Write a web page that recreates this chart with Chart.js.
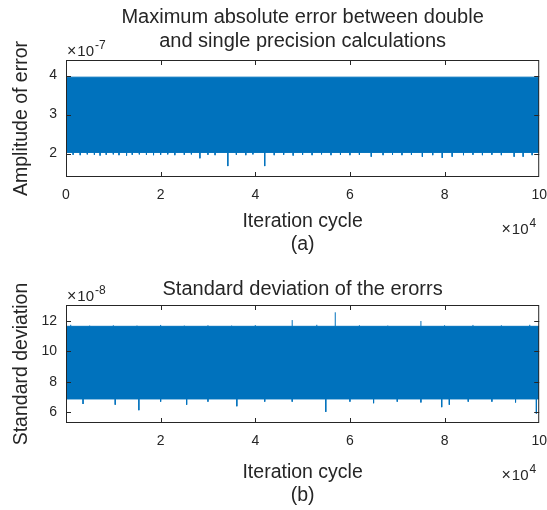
<!DOCTYPE html>
<html>
<head>
<meta charset="utf-8">
<title>Error statistics</title>
<script src="https://cdn.jsdelivr.net/npm/chart.js@4.4.1/dist/chart.umd.min.js"></script>
<style>
    html, body { margin: 0; padding: 0; background: #fff; }
    #wrap { position: relative; width: 547px; height: 510px; }
    #wrap canvas { position: absolute; left: 0; }
</style>
</head>
<body>
<div id="wrap">
    <canvas id="chartA" width="547" height="255" style="top:0"></canvas>
    <canvas id="chartB" width="547" height="255" style="top:255px"></canvas>
</div>
<script>
// -------------------------------------------------------------------------
// Data (x in units of 1e4 iterations)
// -------------------------------------------------------------------------

// (a) maximum absolute error, units of 1e-7
const xTicksA = [0, 2, 4, 6, 8, 10];
const yTicksA = [2, 3, 4];
const envelopeXA = [0, 10];
const upperA = [3.96, 3.96];
const lowerA = [2.03, 2.03];
// downward excursions below the band
const spikeXA = [0.15, 0.3, 0.45, 0.6, 0.72, 0.85, 1.0, 1.12, 1.28, 1.4, 1.55, 1.7, 1.85, 2.0, 2.15, 2.3, 2.5, 2.65,
    2.83, 3.0, 3.15, 3.42, 3.6, 3.8, 3.95, 4.2, 4.4, 4.6, 4.8, 5.0, 5.2, 5.4, 5.6, 5.8, 6.0, 6.2, 6.45, 6.7, 6.9,
    7.1, 7.3, 7.53, 7.75, 7.95, 8.16, 8.4, 8.6, 8.8, 9.0, 9.2, 9.47, 9.66, 9.85];
const spikeYA = [1.97, 1.96, 1.98, 1.97, 1.95, 1.97, 1.98, 1.96, 1.95, 1.97, 1.98, 1.97, 1.96, 1.97, 1.98, 1.96, 1.97, 1.98,
    1.88, 1.97, 1.96, 1.68, 1.97, 1.96, 1.98, 1.68, 1.96, 1.97, 1.95, 1.97, 1.96, 1.98, 1.96, 1.97, 1.96, 1.97, 1.92, 1.96, 1.97,
    1.96, 1.97, 1.92, 1.96, 1.89, 1.92, 1.96, 1.97, 1.96, 1.97, 1.96, 1.92, 1.92, 1.96];

// (b) standard deviation of the errors, units of 1e-8
const xTicksB = [2, 4, 6, 8, 10];
const yTicksB = [6, 8, 10, 12];
const envelopeXB = [0, 10];
const upperB = [11.65, 11.65];
const lowerB = [6.88, 6.88];
const upSpikeXB = [0.1, 0.5, 1.0, 1.5, 2.0, 2.5, 3.0, 3.5, 4.0, 4.78, 5.3, 5.69, 6.2, 6.8, 7.5, 8.0, 8.6, 9.2, 9.8];
const upSpikeYB = [11.75, 11.7, 11.72, 11.7, 11.74, 11.7, 11.72, 11.7, 11.73, 12.06, 11.75, 12.57, 11.72, 11.7, 12.0, 11.72, 11.74, 11.72, 11.75];
const downSpikeXB = [0.36, 1.04, 1.54, 2.0, 2.55, 3.0, 3.61, 4.2, 4.78, 5.49, 6.0, 6.5, 7.0, 7.5, 7.94, 8.1, 8.5, 9.0, 9.5, 9.94];
const downSpikeYB = [6.55, 6.5, 6.14, 6.7, 6.5, 6.7, 6.4, 6.7, 6.7, 6.03, 6.7, 6.6, 6.7, 6.65, 6.34, 6.5, 6.7, 6.7, 6.65, 5.92];

// -------------------------------------------------------------------------
// Styling
// -------------------------------------------------------------------------
const FONT = '"Liberation Sans", Arial, sans-serif';
const INK = '#262626';
const BLUE = '#0072BD';

Chart.defaults.font.family = FONT;
Chart.defaults.color = INK;

function toPoints(xs, ys) {
    return xs.map((x, i) => ({ x: x, y: ys[i] }));
}

// vertical strokes from the band edge out to each excursion, split by gaps
function spikePoints(xs, ys, base) {
    const pts = [];
    xs.forEach((x, i) => {
        pts.push({ x: x, y: base }, { x: x, y: ys[i] }, { x: x, y: null });
    });
    return pts;
}

// MATLAB-like frame, inward ticks, titles and exponent labels
const matlabAxes = {
    id: 'matlabAxes',
    afterDraw(chart, args, opts) {
        const ctx = chart.ctx;
        const a = chart.chartArea;
        const xs = chart.scales.x;
        const ys = chart.scales.y;
        ctx.save();
        ctx.strokeStyle = INK;
        ctx.lineWidth = 1;
        ctx.strokeRect(a.left + 0.5, a.top + 0.5, a.right - a.left - 1, a.bottom - a.top - 1);

        ctx.beginPath();
        xs.ticks.forEach(t => {
            const px = Math.round(xs.getPixelForValue(t.value)) + 0.5;
            if (px < a.left + 2 || px > a.right - 2) return;
            ctx.moveTo(px, a.bottom); ctx.lineTo(px, a.bottom - 5);
            ctx.moveTo(px, a.top); ctx.lineTo(px, a.top + 5);
        });
        ys.ticks.forEach(t => {
            const py = Math.round(ys.getPixelForValue(t.value)) + 0.5;
            if (py < a.top + 2 || py > a.bottom - 2) return;
            ctx.moveTo(a.left, py); ctx.lineTo(a.left + 5, py);
            ctx.moveTo(a.right, py); ctx.lineTo(a.right - 5, py);
        });
        ctx.stroke();

        ctx.fillStyle = INK;
        ctx.textAlign = 'center';
        ctx.textBaseline = 'middle';
        ctx.font = '20px ' + FONT;
        const cx = (a.left + a.right) / 2;
        opts.title.forEach((line, i) => ctx.fillText(line, cx, opts.titleY + i * 24));

        // "x10^n" labels
        const sup = (exp, x, y, align) => {
            ctx.textBaseline = 'alphabetic';
            ctx.textAlign = 'left';
            ctx.font = '16px ' + FONT;
            const wx = ctx.measureText('\u00d7').width + 1;
            ctx.font = '15px ' + FONT;
            const w1 = ctx.measureText('10').width + 1;
            ctx.font = '12px ' + FONT;
            const w2 = ctx.measureText(exp).width;
            const x0 = align === 'right' ? x - wx - w1 - w2 : x;
            ctx.font = '16px ' + FONT;
            ctx.fillText('\u00d7', x0, y);
            ctx.font = '15px ' + FONT;
            ctx.fillText('10', x0 + wx, y);
            ctx.font = '12px ' + FONT;
            ctx.fillText(exp, x0 + wx + w1, y - 7);
        };
        sup(opts.yExp, a.left + 1, opts.yExpY, 'left');
        sup(opts.xExp, a.right - 3, opts.xExpY, 'right');
        ctx.restore();
    }
};

function makeChart(canvasId, cfg) {
    return new Chart(document.getElementById(canvasId).getContext('2d'), {
        type: 'line',
        data: { datasets: cfg.datasets },
        options: {
            responsive: false,
            animation: false,
            events: [],
            layout: { padding: { top: cfg.top, right: 7, left: 0, bottom: 0 } },
            plugins: {
                legend: { display: false },
                tooltip: { enabled: false },
                matlabAxes: cfg.labels
            },
            scales: {
                x: {
                    type: 'linear',
                    min: 0,
                    max: 10,
                    afterBuildTicks: s => { s.ticks = cfg.xTicks.map(v => ({ value: v })); },
                    afterFit: s => { s.height = cfg.xHeight; },
                    grid: { display: true, drawOnChartArea: false, drawTicks: true, tickLength: 10, tickColor: 'rgba(0,0,0,0)' },
                    border: { display: false },
                    ticks: { padding: 0, font: { size: 14 }, maxRotation: 0, autoSkip: false },
                    title: {
                        display: true,
                        text: cfg.xTitle,
                        font: { size: 19.5, lineHeight: '23px' },
                        padding: { top: 0, bottom: cfg.xTitlePad }
                    }
                },
                y: {
                    type: 'linear',
                    min: cfg.yMin,
                    max: cfg.yMax,
                    afterBuildTicks: s => { s.ticks = cfg.yTicks.map(v => ({ value: v })); },
                    afterFit: s => { s.width = 66; },
                    grid: { display: true, drawOnChartArea: false, drawTicks: true, tickLength: 9, tickColor: 'rgba(0,0,0,0)' },
                    border: { display: false },
                    ticks: { padding: 0, font: { size: 14 } },
                    title: {
                        display: true,
                        text: cfg.yTitle,
                        font: { size: 19.5, lineHeight: '24px' },
                        padding: { top: 10, bottom: 0 }
                    }
                }
            }
        },
        plugins: [matlabAxes]
    });
}

const lineStyle = { borderColor: BLUE, borderWidth: 1, pointRadius: 0, tension: 0, spanGaps: false };

makeChart('chartA', {
    top: 60, xHeight: 78, xTitlePad: -1.5,
    yMin: 1.4, yMax: 4.4,
    xTicks: xTicksA, yTicks: yTicksA,
    xTitle: ['Iteration cycle', '(a)'],
    yTitle: 'Amplitude of error',
    labels: {
        title: ['Maximum absolute error between double', 'and single precision calculations'],
        titleY: 17, yExp: '-7', yExpY: 56, xExp: '4', xExpY: 234
    },
    datasets: [
        { ...lineStyle, data: toPoints(envelopeXA, upperA), fill: false },
        { ...lineStyle, data: toPoints(envelopeXA, lowerA), fill: '-1', backgroundColor: BLUE },
        { ...lineStyle, data: spikePoints(spikeXA, spikeYA, lowerA[0]), fill: false }
    ]
});

makeChart('chartB', {
    top: 50, xHeight: 87, xTitlePad: 3,
    yMin: 5.3, yMax: 13.05,
    xTicks: xTicksB, yTicks: yTicksB,
    xTitle: ['Iteration cycle', '(b)'],
    yTitle: 'Standard deviation',
    labels: {
        title: ['Standard deviation of the erorrs'],
        titleY: 34, yExp: '-8', yExpY: 46, xExp: '4', xExpY: 225
    },
    datasets: [
        { ...lineStyle, data: toPoints(envelopeXB, upperB), fill: false },
        { ...lineStyle, data: toPoints(envelopeXB, lowerB), fill: '-1', backgroundColor: BLUE },
        { ...lineStyle, data: spikePoints(upSpikeXB, upSpikeYB, upperB[0]), fill: false },
        { ...lineStyle, data: spikePoints(downSpikeXB, downSpikeYB, lowerB[0]), fill: false }
    ]
});
</script>
</body>
</html>
